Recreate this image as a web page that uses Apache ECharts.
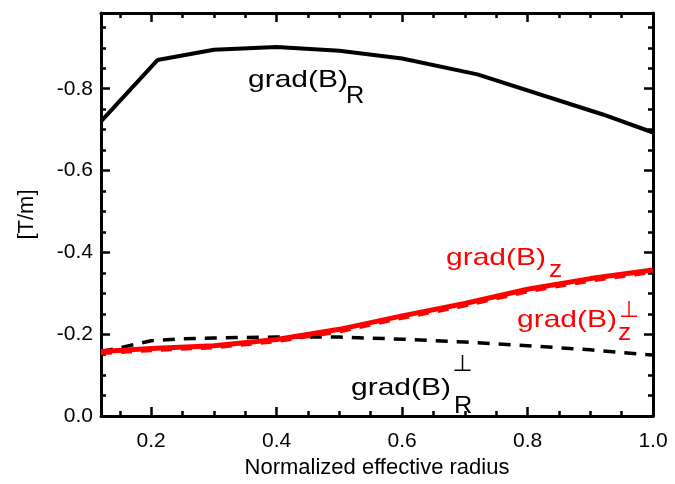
<!DOCTYPE html>
<html><head><meta charset="utf-8">
<script src="https://cdn.jsdelivr.net/npm/echarts@6/dist/echarts.min.js"></script>
<style>html,body{margin:0;padding:0;background:#fff}#c{width:675px;height:484px}</style>
</head><body><div id="c"></div>
<script>
// ---- data ----
const xGradR = [0.12, 0.21, 0.30, 0.40, 0.50, 0.60, 0.72, 0.92, 1.00];
const gradR  = [-0.720, -0.870, -0.895, -0.902, -0.893, -0.874, -0.835, -0.737, -0.693];

const xGradZ = [0.12, 0.20, 0.30, 0.40, 0.50, 0.60, 0.70, 0.80, 0.90, 1.00];
const gradZ     = [-0.158, -0.165, -0.172, -0.187, -0.212, -0.245, -0.275, -0.310, -0.336, -0.357];
const gradZperp = [-0.154, -0.161, -0.168, -0.183, -0.207, -0.240, -0.270, -0.305, -0.331, -0.352];

const xGradRperp = [0.12, 0.15, 0.20, 0.25, 0.30, 0.40, 0.50, 0.60, 0.70, 0.80, 0.90, 1.00];
const gradRperp  = [-0.158, -0.167, -0.184, -0.189, -0.191, -0.193, -0.193, -0.188, -0.181, -0.172, -0.162, -0.149];

const xMajor = [0.2, 0.4, 0.6, 0.8, 1.0];
const xMinor = [0.15, 0.25, 0.3, 0.35, 0.45, 0.5, 0.55, 0.65, 0.7, 0.75, 0.85, 0.9, 0.95];
const yMajor = [-0.8, -0.6, -0.4, -0.2, 0.0];
const yMinor = [-0.95, -0.9, -0.85, -0.75, -0.7, -0.65, -0.55, -0.5, -0.45, -0.35, -0.3, -0.25, -0.15, -0.1, -0.05];

const xTitle = 'Normalized effective radius';
const yTitle = '[T/m]';

// ---- build ----
const zip = (xs, ys) => xs.map((x, i) => [x, ys[i]]);
const FONT = 'Liberation Sans, Arial, sans-serif';
const X_MIN = 0.12, X_MAX = 1.0, Y_MIN = -0.985, Y_MAX = 0;

function xAx(pos, vals, len, line, labels) {
  const a = {
    type: 'value', position: pos, min: X_MIN, max: X_MAX,
    axisLine: {show: line, onZero: false, lineStyle: {color: '#000', width: 3}},
    axisTick: {show: true, inside: true, length: len, customValues: vals, lineStyle: {color: '#000', width: 2.5}},
    axisLabel: {show: false},
    splitLine: {show: false}
  };
  if (labels) {
    a.axisLabel = {show: true, customValues: vals, formatter: v => Number(v).toFixed(1),
      fontSize: 21, fontFamily: FONT, color: '#000', margin: 15, showMaxLabel: true, showMinLabel: true};
    a.name = xTitle; a.nameLocation = 'middle'; a.nameGap = 35;
    a.nameTextStyle = {fontSize: 22, fontFamily: FONT, color: '#000'};
  }
  return a;
}
function yAx(pos, vals, len, line, labels) {
  const a = {
    type: 'value', position: pos, min: Y_MIN, max: Y_MAX, inverse: true,
    axisLine: {show: line, onZero: false, lineStyle: {color: '#000', width: 3}},
    axisTick: {show: true, inside: true, length: len, customValues: vals, lineStyle: {color: '#000', width: 2.5}},
    axisLabel: {show: false},
    splitLine: {show: false}
  };
  if (labels) {
    a.axisLabel = {show: true, customValues: vals, formatter: v => Number(v).toFixed(1),
      fontSize: 21, fontFamily: FONT, color: '#000', margin: 8, showMaxLabel: true, showMinLabel: true};
    a.name = yTitle; a.nameLocation = 'middle'; a.nameGap = 63; a.nameRotate = 90;
    a.nameTextStyle = {fontSize: 22, fontFamily: FONT, color: '#000'};
  }
  return a;
}

function txt(s, x, y, color, size, sx, family, align) {
  return {type: 'text', x: x, y: y, scaleX: sx, z: 100,
    style: {text: s, fill: color, fontSize: size, fontFamily: family || FONT,
      align: align || 'left', verticalAlign: 'middle', textAlign: align || 'left', textVerticalAlign: 'middle'}};
}
const RED = '#ff0000';
const PERP = '\u22A5';
const graphics = [
  txt('grad(B)', 248, 80, '#000', 24, 1.25),
  txt('R', 346, 97, '#000', 23, 1.1),
  txt('grad(B)', 351, 388.7, '#000', 24, 1.25),
  txt('R', 454, 407, '#000', 23, 1.1),
  txt(PERP, 462.5, 365, '#000', 23, 1.0, 'DejaVu Sans', 'center'),
  txt('grad(B)', 446, 258.4, RED, 24, 1.25),
  txt('z', 549, 270.5, RED, 24, 1.1),
  txt('grad(B)', 517, 320.2, RED, 24, 1.25),
  txt('z', 618, 333, RED, 24, 1.1),
  txt(PERP, 629, 311, RED, 23, 1.0, 'DejaVu Sans', 'center')
];

const chart = echarts.init(document.getElementById('c'), null, {renderer: 'canvas'});
chart.setOption({
  animation: false,
  backgroundColor: '#fff',
  grid: {left: 101, right: 22, top: 13, bottom: 64, containLabel: false},
  xAxis: [
    xAx('bottom', xMajor, 9, true, true),
    xAx('bottom', xMinor, 5, false, false),
    xAx('top', xMajor, 9, true, false),
    xAx('top', xMinor, 5, false, false)
  ],
  yAxis: [
    yAx('left', yMajor, 9, true, true),
    yAx('left', yMinor, 5, false, false),
    yAx('right', yMajor, 9, true, false),
    yAx('right', yMinor, 5, false, false)
  ],
  series: [
    {type: 'line', name: 'grad(B)_R perp', data: zip(xGradRperp, gradRperp), showSymbol: false, symbol: 'none',
     lineStyle: {color: '#000', width: 3.5, type: [12, 9]}, z: 2},
    {type: 'line', name: 'grad(B)_R', data: zip(xGradR, gradR), showSymbol: false, symbol: 'none',
     lineStyle: {color: '#000', width: 4}, z: 3},
    {type: 'line', name: 'grad(B)_z perp', data: zip(xGradZ, gradZperp), showSymbol: false, symbol: 'none',
     lineStyle: {color: RED, width: 4, type: [11, 9]}, z: 4},
    {type: 'line', name: 'grad(B)_z', data: zip(xGradZ, gradZ), showSymbol: false, symbol: 'none',
     lineStyle: {color: RED, width: 5}, z: 5}
  ],
  graphic: graphics
});
</script></body></html>
